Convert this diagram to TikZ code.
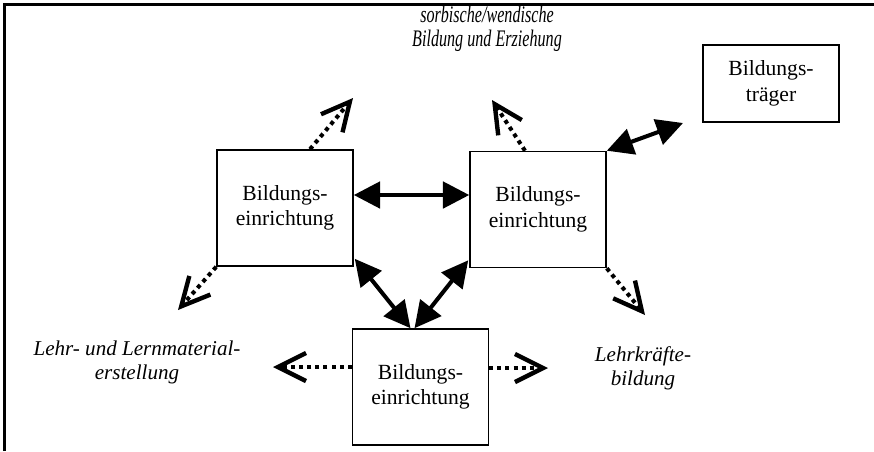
\documentclass[tikz,border=0pt]{standalone}
\usepackage{fontspec}
\setmainfont{Liberation Serif}
\newfontfamily\narrowfont[FakeStretch=0.68]{Liberation Serif}
\usetikzlibrary{positioning,arrows.meta,calc}

\begin{document}
\begin{tikzpicture}[x=0.02cm,y=-0.02cm,
boxnode/.style={rectangle, draw=black, line width=0.9pt, minimum width=2.72cm, minimum height=2.32cm, inner sep=0pt, align=center, font=\fontsize{12.3}{14.5}\selectfont},
labelnode/.style={align=center, font=\fontsize{12}{13.6}\selectfont\itshape},
twoway/.style={{Triangle[length=15pt,width=15pt]}-{Triangle[length=15pt,width=15pt]}, line width=2.3pt},
outarrow/.style={-{Straight Barb[length=16pt,width=16pt,line width=2.5pt]}, line width=2.3pt, dash pattern=on 2.3pt off 2.3pt},
]
\useasboundingbox (0,0) rectangle (874,451);
\draw[line width=1.7pt] (4.5,451) |- (874,4.5);

%Nodes
\node[boxnode]      (E1)    at (285,208)     {Bildungs-\\einrichtung};
\node[boxnode]      (E2)    at (538,209.5)   {Bildungs-\\einrichtung};
\node[boxnode]      (E3)    at (420.5,387)   {Bildungs-\\einrichtung};
\node[boxnode, minimum height=1.54cm] (Tr) at (771,83.5) {Bildungs-\\träger};

\node[labelnode, font=\fontsize{13.5}{13.4}\selectfont\narrowfont\itshape]
                    (Sorb)  at (487,29)      {sorbische/wendische\\Bildung und Erziehung};
\node[labelnode]    (Mat)   at (137,362)     {Lehr- und Lernmaterial-\\erstellung};
\node[labelnode]    (Lkb)   at (643,368)     {Lehrkräfte-\\bildung};

\coordinate (TrIn)    at (683,123);
\coordinate (pUp1)    at (353,98);
\coordinate (pUp2)    at (492,100);
\coordinate (pLeft1)  at (178,310);
\coordinate (pLeft2)  at (273,367);
\coordinate (pRight1) at (645,315);
\coordinate (pRight2) at (548,368);

%Lines
\draw[twoway] ($(E1.east)+(0,-13)$) -- ($(E2.west)+(0,-14.5)$);
\draw[twoway] (E2.north east) -- (TrIn);
\draw[twoway] ($(E1.south east)+(1,-8)$) -- ($(E3.north)+(-10,0)$);
\draw[twoway] ($(E2.south west)+(-1,-8)$) -- ($(E3.north)+(-6,0)$);

\draw[outarrow] ($(E1.north)+(25,0)$) -- (pUp1);
\draw[outarrow] ($(E2.north)+(-13,0)$) -- (pUp2);
\draw[outarrow] (E1.south west) -- (pLeft1);
\draw[outarrow] ($(E3.west)+(0,-20)$) -- (pLeft2);
\draw[outarrow] (E2.south east) -- (pRight1);
\draw[outarrow] ($(E3.east)+(0,-19)$) -- (pRight2);
\end{tikzpicture}
\end{document}
